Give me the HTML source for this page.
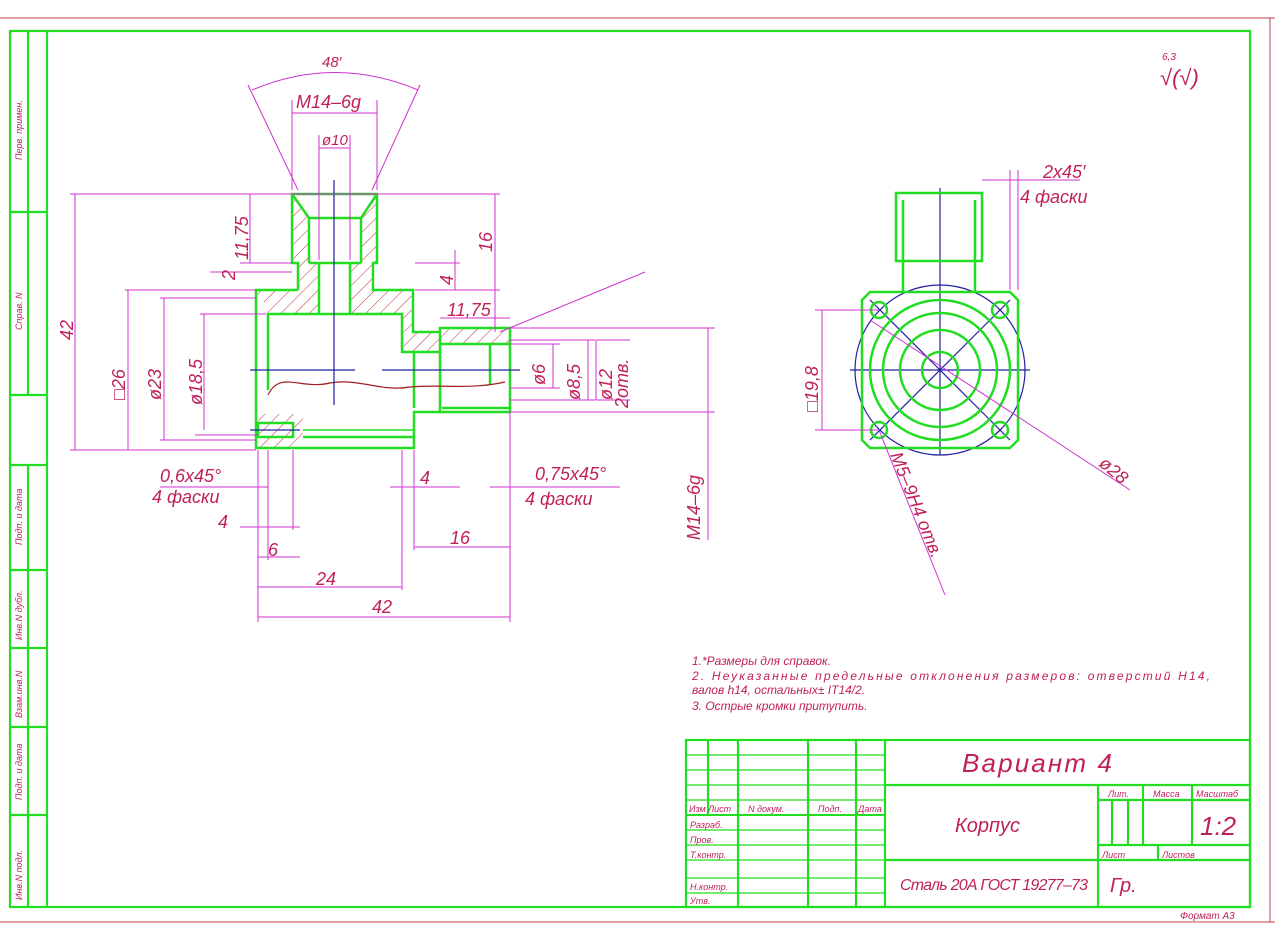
<!DOCTYPE html>
<html><head><meta charset="utf-8"><style>
html,body{margin:0;padding:0;background:#fff}
svg{display:block}
text{font-family:"Liberation Sans",sans-serif;font-style:italic}
</style></head><body>
<svg width="1275" height="935" viewBox="0 0 1275 935" xmlns="http://www.w3.org/2000/svg">
<rect x="0" y="0" width="1275" height="935" fill="#fff"/>
<line x1="0" y1="18" x2="1275" y2="18" stroke="#c04050" stroke-width="1"/>
<line x1="0" y1="922" x2="1275" y2="922" stroke="#c04050" stroke-width="1"/>
<line x1="1270" y1="18" x2="1270" y2="922" stroke="#c04050" stroke-width="1"/>
<g stroke="#22dd22" stroke-width="2.2" fill="none">
<rect x="10" y="31" width="1240" height="876"/>
<line x1="47" y1="31" x2="47" y2="907"/>
<line x1="28" y1="31" x2="28" y2="395"/>
<line x1="10" y1="212" x2="47" y2="212"/>
<line x1="10" y1="395" x2="47" y2="395"/>
<line x1="28" y1="465" x2="28" y2="907"/>
<line x1="10" y1="465" x2="47" y2="465"/>
<line x1="10" y1="570" x2="47" y2="570"/>
<line x1="10" y1="648" x2="47" y2="648"/>
<line x1="10" y1="727" x2="47" y2="727"/>
<line x1="10" y1="815" x2="47" y2="815"/>
<rect x="686" y="740" width="564" height="167"/>
<line x1="885" y1="740" x2="885" y2="907"/>
<line x1="885" y1="785" x2="1250" y2="785"/>
<line x1="885" y1="860" x2="1250" y2="860"/>
<line x1="1098" y1="785" x2="1098" y2="907"/>
<line x1="1098" y1="800" x2="1250" y2="800"/>
<line x1="1098" y1="845" x2="1250" y2="845"/>
<line x1="1143" y1="785" x2="1143" y2="845"/>
<line x1="1192" y1="785" x2="1192" y2="845"/>
<line x1="1158" y1="845" x2="1158" y2="860"/>
<line x1="1112" y1="800" x2="1112" y2="845"/>
<line x1="1128" y1="800" x2="1128" y2="845"/>
<line x1="708" y1="740" x2="708" y2="815"/>
<line x1="738" y1="740" x2="738" y2="907"/>
<line x1="808" y1="740" x2="808" y2="907"/>
<line x1="856" y1="740" x2="856" y2="907"/>
</g>
<g stroke="#22dd22" stroke-width="1.2">
<line x1="686" y1="755" x2="885" y2="755"/><line x1="686" y1="770" x2="885" y2="770"/>
<line x1="686" y1="785" x2="885" y2="785"/><line x1="686" y1="800" x2="885" y2="800"/>
<line x1="686" y1="815" x2="885" y2="815" stroke-width="2"/><line x1="686" y1="830" x2="885" y2="830"/>
<line x1="686" y1="845" x2="885" y2="845"/><line x1="686" y1="860" x2="885" y2="860"/>
<line x1="686" y1="878" x2="885" y2="878"/><line x1="686" y1="893" x2="885" y2="893"/>
</g>
<g fill="#c0205a" font-size="9">
<text x="689" y="812">Изм</text><text x="708" y="812">Лист</text><text x="748" y="812">N докум.</text><text x="818" y="812">Подп.</text><text x="858" y="812">Дата</text>
<text x="690" y="828">Разраб.</text><text x="690" y="843">Пров.</text><text x="690" y="858">Т.контр.</text>
<text x="690" y="890">Н.контр.</text><text x="690" y="904">Утв.</text>
<text x="1108" y="797">Лит.</text><text x="1153" y="797">Масса</text><text x="1196" y="797">Масштаб</text>
<text x="1102" y="858">Лист</text><text x="1162" y="858">Листов</text>
<text x="1180" y="919" font-size="10">Формат А3</text>
</g>
<g fill="#c0205a">
<text x="962" y="772" font-size="26" textLength="150">Вариант 4</text>
<text x="955" y="832" font-size="20">Корпус</text>
<text x="1200" y="835" font-size="26">1:2</text>
<text x="900" y="890" font-size="16" textLength="188">Сталь 20А ГОСТ 19277–73</text>
<text x="1110" y="892" font-size="20">Гр.</text>
</g>
<g fill="#c0205a" font-size="9" transform="rotate(-90)">
<text x="-160" y="22">Перв. примен.</text>
<text x="-330" y="22">Справ. N</text>
<text x="-545" y="22">Подп. и дата</text>
<text x="-640" y="22">Инв.N дубл.</text>
<text x="-718" y="22">Взам.инв.N</text>
<text x="-800" y="22">Подп. и дата</text>
<text x="-900" y="22">Инв.N подл.</text>
</g>
<g fill="#c0205a" font-size="12">
<text x="692" y="665">1.*Размеры для справок.</text>
<text x="692" y="680" textLength="518">2. Неуказанные предельные отклонения размеров: отверстий H14,</text>
<text x="692" y="694">валов h14, остальных± IT14/2.</text>
<text x="692" y="710">3. Острые кромки притупить.</text>
</g>
<text x="1160" y="85" fill="#c0205a" font-size="22">√(√)</text>
<text x="1162" y="60" fill="#c0205a" font-size="10">6,3</text>

<defs><pattern id="h" width="10" height="10" patternUnits="userSpaceOnUse" patternTransform="rotate(45)"><line x1="0" y1="0" x2="0" y2="10" stroke="#c03030" stroke-width="1"/></pattern></defs>
<g fill="url(#h)">
<polygon points="292,194 309,218 309,263 319,263 319,314 268,314 268,302 256,302 256,290 298,290 298,263 292,263"/>
<polygon points="377,194 361,218 361,263 350,263 350,314 402,314 402,352 440,352 440,332 413,332 413,290 373,290 373,263 377,263"/>
<rect x="440" y="328" width="70" height="16"/>
<rect x="258" y="414" width="45" height="34"/>
</g>
<g stroke="#22dd22" stroke-width="2.5" fill="none">
<polyline points="298,290 256,290 256,448 414,448 414,412 440,412"/>
<polyline points="298,290 298,263 292,263 292,194 377,194 377,263 373,263 373,290 413,290 413,332 440,332"/>
<rect x="440" y="328" width="70" height="84"/>
<line x1="309" y1="218" x2="361" y2="218"/><line x1="309" y1="218" x2="309" y2="263"/><line x1="361" y1="218" x2="361" y2="263"/>
<line x1="309" y1="263" x2="361" y2="263"/>
<line x1="292" y1="194" x2="309" y2="218"/><line x1="377" y1="194" x2="361" y2="218"/>
<line x1="319" y1="263" x2="319" y2="314"/><line x1="350" y1="263" x2="350" y2="314"/>
<polyline points="268,390 268,314 402,314 402,352 440,352"/>
<line x1="414" y1="352" x2="414" y2="408"/>
<line x1="440" y1="344" x2="510" y2="344"/>
<line x1="490" y1="344" x2="490" y2="385"/>
<line x1="442" y1="408" x2="510" y2="408"/>
<rect x="258" y="423" width="35" height="14"/>
<line x1="303" y1="437" x2="414" y2="437"/>
<line x1="303" y1="430" x2="414" y2="430" stroke-width="1.5"/>
</g>
<path d="M268,395 C280,370 300,390 330,383 C360,378 380,392 410,387 C440,384 470,390 505,382" stroke="#a02020" fill="none" stroke-width="1.2"/>
<g stroke="#2020a0" stroke-width="1.2">
<line x1="334" y1="180" x2="334" y2="405"/>
<line x1="250" y1="370" x2="355" y2="370"/><line x1="382" y1="370" x2="520" y2="370"/>
<line x1="250" y1="430" x2="300" y2="430"/>
</g>
<g stroke="#d030d0" stroke-width="1" fill="none">
<line x1="248" y1="85" x2="298" y2="190"/><line x1="420" y1="85" x2="372" y2="190"/>
<path d="M252,90 Q335,55 418,90"/>
<line x1="292" y1="100" x2="292" y2="190"/><line x1="377" y1="100" x2="377" y2="190"/><line x1="292" y1="113" x2="377" y2="113"/>
<line x1="319" y1="135" x2="319" y2="260"/><line x1="350" y1="135" x2="350" y2="260"/><line x1="319" y1="148" x2="350" y2="148"/>
<line x1="70" y1="194" x2="500" y2="194"/><line x1="75" y1="194" x2="75" y2="450"/><line x1="70" y1="450" x2="256" y2="450"/>
<line x1="125" y1="290" x2="256" y2="290"/><line x1="128" y1="290" x2="128" y2="450"/>
<line x1="160" y1="298" x2="256" y2="298"/><line x1="164" y1="298" x2="164" y2="440"/><line x1="160" y1="440" x2="256" y2="440"/>
<line x1="200" y1="314" x2="266" y2="314"/><line x1="204" y1="314" x2="204" y2="430"/>
<line x1="250" y1="194" x2="250" y2="263"/><line x1="240" y1="263" x2="292" y2="263"/>
<line x1="210" y1="272" x2="292" y2="272"/>
<line x1="495" y1="194" x2="495" y2="332"/><line x1="415" y1="263" x2="460" y2="263"/><line x1="455" y1="250" x2="455" y2="290"/>
<line x1="415" y1="290" x2="500" y2="290"/><line x1="440" y1="318" x2="510" y2="318"/>
<line x1="500" y1="332" x2="645" y2="272"/>
<line x1="510" y1="328" x2="715" y2="328"/><line x1="708" y1="328" x2="708" y2="540"/><line x1="510" y1="412" x2="715" y2="412"/>
<line x1="510" y1="344" x2="560" y2="344"/><line x1="510" y1="388" x2="560" y2="388"/><line x1="553" y1="344" x2="553" y2="388"/>
<line x1="510" y1="340" x2="595" y2="340"/><line x1="510" y1="400" x2="595" y2="400"/><line x1="588" y1="340" x2="588" y2="400"/>
<line x1="596" y1="340" x2="596" y2="400"/><line x1="596" y1="340" x2="630" y2="340"/><line x1="596" y1="400" x2="630" y2="400"/>
<line x1="258" y1="450" x2="258" y2="622"/><line x1="510" y1="412" x2="510" y2="622"/>
<line x1="258" y1="617" x2="510" y2="617"/><line x1="258" y1="587" x2="402" y2="587"/><line x1="402" y1="450" x2="402" y2="590"/>
<line x1="268" y1="450" x2="268" y2="560"/><line x1="293" y1="450" x2="293" y2="530"/>
<line x1="258" y1="557" x2="300" y2="557"/><line x1="240" y1="527" x2="300" y2="527"/>
<line x1="414" y1="450" x2="414" y2="550"/><line x1="414" y1="547" x2="510" y2="547"/>
<line x1="160" y1="487" x2="268" y2="487"/><line x1="390" y1="487" x2="460" y2="487"/><line x1="490" y1="487" x2="620" y2="487"/>
<line x1="195" y1="435" x2="258" y2="435"/>
</g>
<g fill="#c0205a" font-size="18">
<text x="322" y="67" font-size="15">48′</text>
<text x="296" y="108">M14–6g</text>
<text x="322" y="145" font-size="15">ø10</text>
<text x="160" y="482">0,6x45°</text><text x="152" y="503">4 фаски</text>
<text x="535" y="480">0,75x45°</text><text x="525" y="505">4 фаски</text>
<text x="218" y="528">4</text><text x="268" y="556">6</text><text x="316" y="585">24</text><text x="372" y="613">42</text>
<text x="420" y="484">4</text><text x="450" y="544">16</text>
<text x="447" y="316">11,75</text>
</g>
<g fill="#c0205a" font-size="18">
<text transform="translate(73,340) rotate(-90)">42</text>
<text transform="translate(125,400) rotate(-90)">□26</text>
<text transform="translate(161,400) rotate(-90)">ø23</text>
<text transform="translate(202,405) rotate(-90)">ø18,5</text>
<text transform="translate(248,260) rotate(-90)">11,75</text>
<text transform="translate(235,280) rotate(-90)">2</text>
<text transform="translate(453,285) rotate(-90)">4</text>
<text transform="translate(492,252) rotate(-90)">16</text>
<text transform="translate(545,385) rotate(-90)">ø6</text>
<text transform="translate(580,400) rotate(-90)">ø8,5</text>
<text transform="translate(612,400) rotate(-90)">ø12</text>
<text transform="translate(628,408) rotate(-90)">2отв.</text>
<text transform="translate(700,540) rotate(-90)">M14–6g</text>
</g>
<g stroke="#2020a0" stroke-width="1.2" fill="none">
<circle cx="940" cy="370" r="85"/>
<line x1="940" y1="188" x2="940" y2="455"/><line x1="850" y1="370" x2="1030" y2="370"/>
<line x1="870" y1="300" x2="1010" y2="440"/><line x1="1010" y1="300" x2="870" y2="440"/>
</g>
<g stroke="#22dd22" stroke-width="2.5" fill="none">
<path d="M870,292 H1010 L1018,300 V440 L1010,448 H870 L862,440 V300 Z"/>
<rect x="896" y="193" width="86" height="68"/>
<line x1="903" y1="200" x2="903" y2="261"/><line x1="975" y1="200" x2="975" y2="261"/>
<polyline points="903,261 903,292"/><polyline points="975,261 975,292"/>
<circle cx="940" cy="370" r="70"/><circle cx="940" cy="370" r="57"/><circle cx="940" cy="370" r="40"/><circle cx="940" cy="370" r="18"/>
<circle cx="879" cy="310" r="8"/><circle cx="1000" cy="310" r="8"/><circle cx="879" cy="430" r="8"/><circle cx="1000" cy="430" r="8"/>
</g>
<g stroke="#d030d0" stroke-width="1" fill="none">
<line x1="982" y1="180" x2="1080" y2="180"/><line x1="1010" y1="170" x2="1010" y2="290"/><line x1="1018" y1="170" x2="1018" y2="290"/>
<line x1="815" y1="310" x2="880" y2="310"/><line x1="815" y1="430" x2="880" y2="430"/><line x1="822" y1="310" x2="822" y2="430"/>
<line x1="870" y1="320" x2="1130" y2="490"/>
<line x1="879" y1="430" x2="945" y2="595"/>
</g>
<g fill="#c0205a" font-size="18">
<text x="1043" y="178">2x45′</text><text x="1020" y="203">4 фаски</text>
<text transform="translate(818,412) rotate(-90)">□19,8</text>
<text transform="translate(1098,465) rotate(40)">ø28</text>
<text transform="translate(890,455) rotate(68)">M5–9H4 отв.</text>
</g>
</svg>
</body></html>
